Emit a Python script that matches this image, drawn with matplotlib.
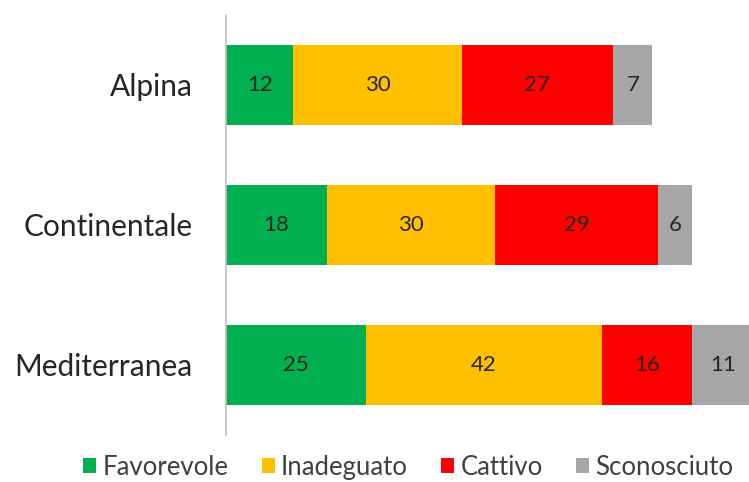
import matplotlib.pyplot as plt
import numpy as np

regions = ["Alpina", "Continentale", "Mediterranea"]
series = ["Favorevole", "Inadeguato", "Cattivo", "Sconosciuto"]
favorevole = [12, 18, 25]
inadeguato = [30, 30, 42]
cattivo = [27, 29, 16]
sconosciuto = [7, 6, 11]
colors = ["#00b050", "#ffc000", "#ff0000", "#a6a6a6"]

plt.rcParams['font.family'] = ['Lato', 'DejaVu Sans']

fig = plt.figure(figsize=(7.49, 4.82), dpi=100)
ax = fig.add_axes([0.3017, 0.0975, 0.6983, 0.8715])

y = np.arange(len(regions))
left = np.zeros(len(regions))
handles = []
for name, vals, col in zip(series, [favorevole, inadeguato, cattivo, sconosciuto], colors):
    bars = ax.barh(y, vals, left=left, height=0.57, color=col, label=name)
    handles.append(bars)
    for b, v in zip(bars, vals):
        cx = b.get_x() + b.get_width() / 2
        ax.text(cx, b.get_y() + b.get_height() / 2, str(v), ha='center', va='center',
                fontsize=16, color='#262626')
    left += np.array(vals)

ax.set_ylim(2.5, -0.5)
ax.set_xlim(0, 93.2)
ax.set_yticks(y)
ax.set_yticklabels(regions, fontsize=21.5, color='#262626')
ax.tick_params(axis='y', length=0, pad=24)
ax.set_xticks([])
for s in ['top', 'right', 'bottom']:
    ax.spines[s].set_visible(False)
ax.spines['left'].set_color('#bfbfbf')
ax.spines['left'].set_linewidth(1.2)

fig.legend(handles=handles, labels=series, loc='center', bbox_to_anchor=(0.545, 0.031),
           ncol=4, frameon=False, fontsize=18.5, handlelength=0.5, handleheight=0.5,
           handletextpad=0.25, columnspacing=1.3, labelcolor='#404040')

fig.savefig("out.png", dpi=100)
